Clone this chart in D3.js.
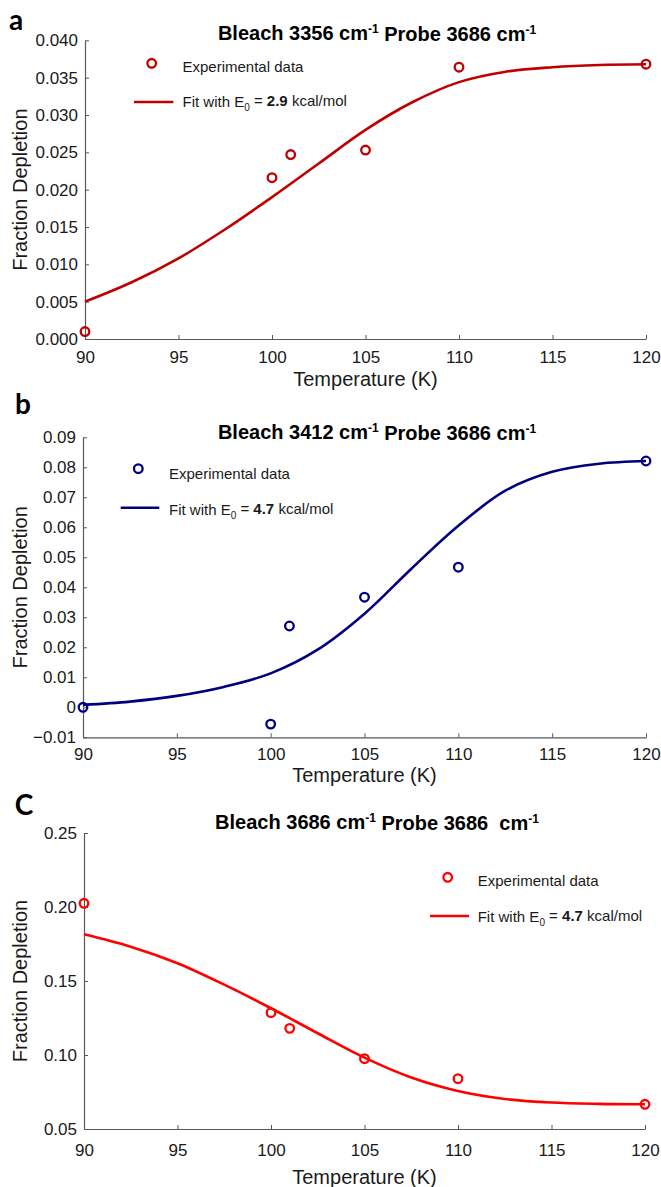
<!DOCTYPE html>
<html>
<head>
<meta charset="utf-8">
<script src="https://cdn.jsdelivr.net/npm/d3@7"></script>
<style>
  html, body { margin: 0; padding: 0; background: #fff; }
  svg { display: block; font-family: "Liberation Sans", Arial, sans-serif; }
  .title { white-space: pre; }
</style>
</head>
<body>
<svg id="fig" width="661" height="1187"></svg>
<script>
// Measured temperatures (K)
const temps = [90, 100, 101, 105, 110, 120];

// Fraction depletion, one array per bleach frequency
const depletionA = [0.0010, 0.0216, 0.0247, 0.0253, 0.0364, 0.0368];
const depletionB = [0.0000, -0.0056, 0.0271, 0.0367, 0.0467, 0.0821];
const depletionC = [0.2025, 0.1286, 0.1180, 0.0975, 0.0840, 0.0667];

// Fitted curves sampled along temperature
const fitTemps = [90, 92.5, 95, 97.5, 100, 102.5, 105, 107.5, 110, 112.5, 115, 117.5, 120];
const fitA = [0.0050, 0.0076, 0.0108, 0.0147, 0.0190, 0.0235, 0.0280, 0.0317, 0.0344, 0.0358, 0.0364, 0.0367, 0.0368];
const fitB = [0.0008, 0.0019, 0.0038, 0.0068, 0.0113, 0.0192, 0.0312, 0.0462, 0.0605, 0.0722, 0.0785, 0.0812, 0.0821];
const fitC = [0.1816, 0.1732, 0.1620, 0.1475, 0.1316, 0.1147, 0.0982, 0.0848, 0.0757, 0.0703, 0.0679, 0.0670, 0.0667];

// Tick values
const xTicks = [90, 95, 100, 105, 110, 115, 120];
const yTicksA = [0, 0.005, 0.010, 0.015, 0.020, 0.025, 0.030, 0.035, 0.040];
const yTicksB = [-0.01, 0, 0.01, 0.02, 0.03, 0.04, 0.05, 0.06, 0.07, 0.08, 0.09];
const yTicksC = [0.05, 0.10, 0.15, 0.20, 0.25];

// Panel texts
const panelLetters = ["a", "b", "C"];
const bleachLabels = ["3356", "3412", "3686"];
const probeLabels = ["3686", "3686", "3686 "];
const energies = ["2.9", "4.7", "4.7"];

const svg = d3.select("#fig");
const axisColor = "#595959";
const textColor = "#1a1a1a";

const panels = [
  {
    letter: panelLetters[0], bleach: bleachLabels[0], probe: probeLabels[0], energy: energies[0],
    data: depletionA, fit: fitA, yTicks: yTicksA, yDomain: [0, 0.04],
    fmt: d3.format(".3f"), color: "#c00000",
    x: [85, 646], y: [339, 40.3],
    letterPos: [16, 20], titleY: 33,
    legend: { cx: 151.7, cy: 63.3, tx: 182.5, ty1: 66.7, lx: [134, 173.3], ly: 102, ty2: 102 },
    tickY: 357, xTitleY: 379, yTitleX: 20
  },
  {
    letter: panelLetters[1], bleach: bleachLabels[1], probe: probeLabels[1], energy: energies[1],
    data: depletionB, fit: fitB, yTicks: yTicksB, yDomain: [-0.01, 0.09],
    fmt: d => d === 0 ? "0" : d3.format(".2f")(d), color: "#00007f",
    x: [83, 646], y: [737.3, 437.3],
    letterPos: [23, 404], titleY: 431.7,
    legend: { cx: 138.3, cy: 468.7, tx: 169, ty1: 473.3, lx: [120.7, 159.3], ly: 507.7, ty2: 510 },
    tickY: 754, xTitleY: 775, yTitleX: 20
  },
  {
    letter: panelLetters[2], bleach: bleachLabels[2], probe: probeLabels[2], energy: energies[2],
    data: depletionC, fit: fitC, yTicks: yTicksC, yDomain: [0.05, 0.25],
    fmt: d3.format(".2f"), color: "#ff0000",
    x: [84, 645], y: [1129, 833],
    letterPos: [24, 805], titleY: 821.7,
    legend: { cx: 447.7, cy: 877.3, tx: 477.7, ty1: 880.7, lx: [430, 469], ly: 916, ty2: 917 },
    tickY: 1150, xTitleY: 1177, yTitleX: 20
  }
];

panels.forEach(p => {
  const g = svg.append("g");
  const x = d3.scaleLinear().domain([90, 120]).range(p.x);
  const y = d3.scaleLinear().domain(p.yDomain).range(p.y);

  // x axis with inward ticks
  const xAxis = g.append("g")
    .attr("transform", `translate(0,${p.y[0]})`)
    .call(d3.axisBottom(x).tickValues(xTicks).tickSize(-4).tickSizeOuter(0).tickPadding(0));
  xAxis.select(".domain").attr("stroke", axisColor).attr("stroke-width", 1.2);
  xAxis.selectAll(".tick line").attr("stroke", axisColor).attr("stroke-width", 1);
  xAxis.selectAll(".tick text")
    .attr("y", p.tickY - p.y[0]).attr("dy", "0.35em")
    .attr("fill", textColor).attr("font-size", 17)
    .attr("font-family", "'Liberation Sans', Arial, sans-serif");

  // y axis with inward ticks
  const yAxis = g.append("g")
    .attr("transform", `translate(${p.x[0]},0)`)
    .call(d3.axisLeft(y).tickValues(p.yTicks).tickFormat(p.fmt).tickSize(-4).tickSizeOuter(0).tickPadding(0));
  yAxis.select(".domain").attr("stroke", axisColor).attr("stroke-width", 1.2);
  yAxis.selectAll(".tick line").attr("stroke", axisColor).attr("stroke-width", 1);
  yAxis.selectAll(".tick text")
    .attr("x", -7).attr("fill", textColor).attr("font-size", 17)
    .attr("font-family", "'Liberation Sans', Arial, sans-serif");

  // axis titles
  g.append("text")
    .attr("x", (p.x[0] + p.x[1]) / 2).attr("y", p.xTitleY).attr("dy", "0.35em")
    .attr("text-anchor", "middle").attr("font-size", 20).attr("fill", textColor)
    .text("Temperature (K)");
  g.append("text")
    .attr("transform", `translate(${p.yTitleX},${(p.y[0] + p.y[1]) / 2}) rotate(-90)`)
    .attr("dy", "0.35em")
    .attr("text-anchor", "middle").attr("font-size", 20).attr("fill", textColor)
    .text("Fraction Depletion");

  // panel letter
  g.append("text")
    .attr("x", p.letterPos[0]).attr("y", p.letterPos[1]).attr("dy", "0.35em")
    .attr("text-anchor", "middle").attr("font-size", 28).attr("font-weight", 700)
    .attr("font-family", "Lato, 'Open Sans', sans-serif").attr("fill", "#000")
    .text(p.letter);

  // title with superscripts
  const title = g.append("text")
    .attr("class", "title")
    .attr("x", 377).attr("y", p.titleY).attr("dy", "0.35em")
    .attr("text-anchor", "middle").attr("font-size", 20).attr("font-weight", 700)
    .attr("fill", "#000");
  title.append("tspan").text(`Bleach ${p.bleach} cm`);
  title.append("tspan").attr("font-size", 12).attr("dy", "-0.6em").text("-1");
  title.append("tspan").attr("dy", "0.42em").text(` Probe ${p.probe} cm`);
  title.append("tspan").attr("font-size", 12).attr("dy", "-0.6em").text("-1");

  // fit curve
  const line = d3.line()
    .x((d, i) => x(fitTemps[i]))
    .y(d => y(d))
    .curve(d3.curveCatmullRom.alpha(0.5));
  g.append("path")
    .datum(p.fit)
    .attr("d", line)
    .attr("fill", "none").attr("stroke", p.color).attr("stroke-width", 2.6);

  // experimental points
  g.selectAll("circle.pt")
    .data(p.data)
    .join("circle")
    .attr("class", "pt")
    .attr("cx", (d, i) => x(temps[i]))
    .attr("cy", d => y(d))
    .attr("r", 4.3)
    .attr("fill", "none").attr("stroke", p.color).attr("stroke-width", 2.3);

  // legend
  const L = p.legend;
  g.append("circle")
    .attr("cx", L.cx).attr("cy", L.cy).attr("r", 4.3)
    .attr("fill", "none").attr("stroke", p.color).attr("stroke-width", 2.3);
  g.append("text")
    .attr("x", L.tx).attr("y", L.ty1).attr("dy", "0.35em")
    .attr("font-size", 15).attr("fill", textColor)
    .text("Experimental data");
  g.append("line")
    .attr("x1", L.lx[0]).attr("x2", L.lx[1]).attr("y1", L.ly).attr("y2", L.ly)
    .attr("stroke", p.color).attr("stroke-width", 2.6);
  const lt = g.append("text")
    .attr("x", L.tx).attr("y", L.ty2).attr("dy", "0.35em")
    .attr("font-size", 15).attr("fill", textColor);
  lt.append("tspan").text("Fit with E");
  lt.append("tspan").attr("font-size", 10).attr("dy", "0.35em").text("0");
  lt.append("tspan").attr("dy", "-0.35em").text(" = ");
  lt.append("tspan").attr("font-weight", 700).text(p.energy);
  lt.append("tspan").text(" kcal/mol");
});
</script>
</body>
</html>
